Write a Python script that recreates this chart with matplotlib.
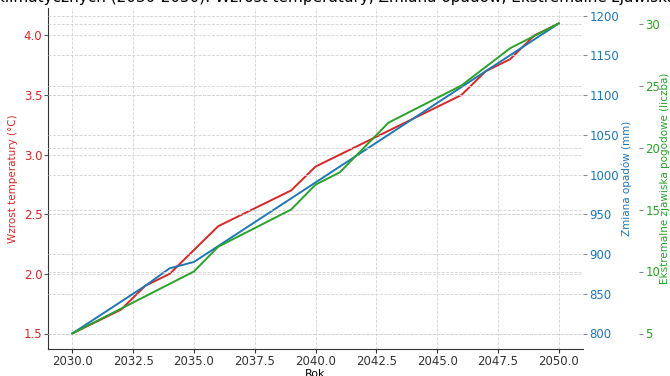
import matplotlib
matplotlib.use("Agg")
import matplotlib.pyplot as plt
from matplotlib.ticker import MultipleLocator, FormatStrFormatter

years = list(range(2030, 2051))
temperatura = [1.5, 1.6, 1.7, 1.9, 2.0, 2.2, 2.4, 2.5, 2.6, 2.7, 2.9,
               3.0, 3.1, 3.2, 3.3, 3.4, 3.5, 3.7, 3.8, 4.0, 4.1]
opady = [800, 820, 840, 860, 882, 890, 910, 930, 950, 970, 990,
         1010, 1030, 1050, 1070, 1090, 1110, 1130, 1150, 1170, 1190]
zjawiska = [5, 6, 7, 8, 9, 10, 12, 13, 14, 15, 17,
            18, 20, 22, 23, 24, 25, 26.5, 28, 29, 30]

c_temp = "#d62728"
c_opad = "#1f77b4"
c_zjaw = "#2ca02c"
grid_kw = dict(color="#d3d3d3", linestyle="--", linewidth=0.6)

fig = plt.figure(figsize=(6.7, 3.76), dpi=100)
ax1 = fig.add_axes([48 / 670, 1 - 349 / 376, 535 / 670, 341 / 376])
ax2 = ax1.twinx()
ax3 = ax1.twinx()
ax3.spines["right"].set_position(("axes", 1.105))

ax1.plot(years, temperatura, color=c_temp, linewidth=1.4)
ax2.plot(years, opady, color=c_opad, linewidth=1.4)
ax3.plot(years, zjawiska, color=c_zjaw, linewidth=1.4)

ax1.set_xlabel("Rok", fontsize=8, labelpad=0.5)
ax1.set_ylabel("Wzrost temperatury (°C)", color=c_temp, fontsize=7.5, labelpad=4)
ax2.set_ylabel("Zmiana opadów (mm)", color=c_opad, fontsize=7.5, labelpad=2)
ax3.set_ylabel("Ekstremalne zjawiska pogodowe (liczba)", color=c_zjaw,
               fontsize=7.5, labelpad=-0.5)

ax1.xaxis.set_major_locator(MultipleLocator(2.5))
ax1.xaxis.set_major_formatter(FormatStrFormatter("%.1f"))
ax1.yaxis.set_major_locator(MultipleLocator(0.5))
ax2.yaxis.set_major_locator(MultipleLocator(50))
ax3.yaxis.set_major_locator(MultipleLocator(5))

ax1.tick_params(axis="x", labelsize=8.5, colors="#333333", length=3, pad=1.5)
ax1.tick_params(axis="y", labelsize=8.5, labelcolor=c_temp, color="#555555",
                length=3, pad=1)
ax2.tick_params(axis="y", labelsize=8.5, labelcolor=c_opad, color="#888888",
                length=3, pad=1.5)
ax3.tick_params(axis="y", labelsize=8.5, labelcolor=c_zjaw, color="#888888",
                length=3, pad=1.5)

for ax in (ax1, ax2, ax3):
    ax.grid(True, **grid_kw)
    ax.set_axisbelow(True)
    for side in ("top", "right"):
        ax.spines[side].set_visible(False)
for ax in (ax2, ax3):
    ax.spines["left"].set_visible(False)
    ax.spines["bottom"].set_visible(False)
    ax.grid(True, axis="y", **grid_kw)
ax1.spines["left"].set_color("#333333")
ax1.spines["bottom"].set_color("#333333")

ax1.set_title("Prognozy zmian klimatycznych (2030-2050): Wzrost temperatury, "
              "Zmiana opadów, Ekstremalne zjawiska pogodowe", fontsize=11, pad=4)

fig.savefig("out.png", dpi=100)
